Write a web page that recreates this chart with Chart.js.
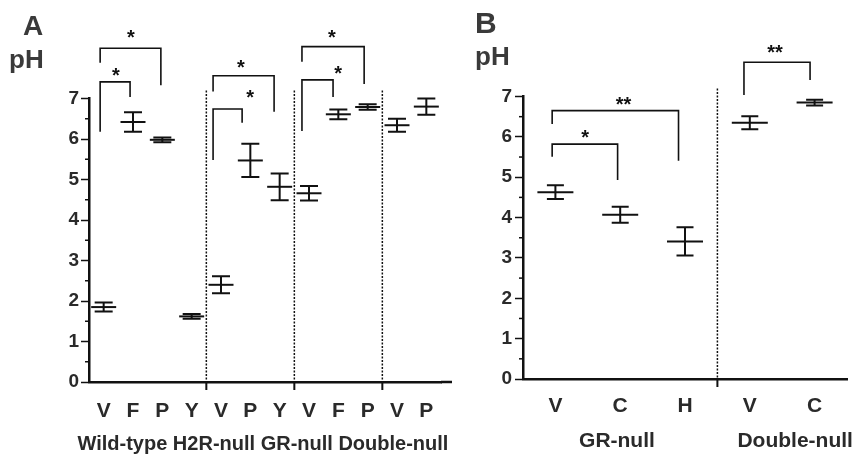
<!DOCTYPE html>
<html>
<head>
<meta charset="utf-8">
<script src="https://cdn.jsdelivr.net/npm/chart.js@4.4.0/dist/chart.umd.min.js"></script>
<style>
    body { margin: 0; background: #fff; width: 867px; height: 458px; position: relative; overflow: hidden; font-family: "Liberation Sans", Arial, sans-serif; }
    .box { position: absolute; top: 0; height: 458px; }
    .lbl { position: absolute; font-weight: bold; line-height: 1; color: #3a3a3a; white-space: nowrap; }
</style>
</head>
<body>
<div class="box" style="left:0;width:460px"><canvas id="chart-a"></canvas></div>
<div class="box" style="left:440px;width:427px"><canvas id="chart-b"></canvas></div>
<span class="lbl" style="left:23px;top:12px;font-size:28px">A</span>
<span class="lbl" style="left:9px;top:46px;font-size:26px">pH</span>
<span class="lbl" style="left:475px;top:8px;font-size:30px">B</span>
<span class="lbl" style="left:475px;top:43px;font-size:26px">pH</span>
<script>
    // panel A data (pH, mean and sem)
    const catsA = ['V', 'F', 'P', 'Y', 'V', 'P', 'Y', 'V', 'F', 'P', 'V', 'P'];
    const meanA = [1.85, 6.42, 5.98, 1.62, 2.40, 5.47, 4.82, 4.66, 6.61, 6.79, 6.34, 6.80];
    const semA = [0.11, 0.24, 0.06, 0.06, 0.21, 0.41, 0.33, 0.18, 0.12, 0.07, 0.16, 0.20];
    const groupA = 'Wild-type H2R-null GR-null Double-null';

    // panel B data
    const catsB = ['V', 'C', 'H', 'V', 'C'];
    const meanB = [4.63, 4.07, 3.41, 6.35, 6.85];
    const semB = [0.17, 0.20, 0.35, 0.16, 0.07];
    const groupsB = ['GR-null', 'Double-null'];

    const yTicks = [0, 1, 2, 3, 4, 5, 6, 7];

    // significance brackets: a/b = category positions, top/ya/yb = pH levels
    const bracketsA = [
        {a: -0.12, b: 0.90, top: 7.41, ya: 6.18, yb: 7.04, star: '*', sx: 0.42, sy: 7.70},
        {a: -0.12, b: 1.95, top: 8.24, ya: 7.88, yb: 7.33, star: '*', sx: 0.93, sy: 8.62},
        {a: 3.73, b: 4.72, top: 6.74, ya: 5.48, yb: 6.40, star: '*', sx: 4.99, sy: 7.14},
        {a: 3.73, b: 5.81, top: 7.56, ya: 7.17, yb: 6.67, star: '*', sx: 4.68, sy: 7.90},
        {a: 6.76, b: 7.82, top: 7.46, ya: 6.20, yb: 7.04, star: '*', sx: 7.99, sy: 7.75},
        {a: 6.76, b: 8.88, top: 8.28, ya: 7.91, yb: 7.36, star: '*', sx: 7.78, sy: 8.64}
    ];
    const bracketsB = [
        {a: -0.05, b: 0.96, top: 5.82, ya: 5.51, yb: 4.93, star: '*', sx: 0.46, sy: 6.10},
        {a: -0.05, b: 1.90, top: 6.65, ya: 6.32, yb: 5.41, star: '**', sx: 1.05, sy: 6.93},
        {a: 2.91, b: 3.93, top: 7.85, ya: 7.04, yb: 7.41, star: '**', sx: 3.39, sy: 8.21}
    ];

    const ink = '#111';
    const textInk = '#2a2a2a';
    const starSize = 20;

    // error bars, brackets, separators, minor ticks, group names
    const extras = {
        id: 'extras',
        afterDatasetsDraw(chart, args, opts) {
            const ctx = chart.ctx;
            const area = chart.chartArea;
            const x = chart.scales.x;
            const y = chart.scales.y;
            const means = chart.data.datasets[0].data;
            ctx.save();
            ctx.strokeStyle = ink;
            ctx.fillStyle = ink;

            // error bars
            ctx.lineWidth = 2;
            opts.sem.forEach((s, i) => {
                const px = x.getPixelForValue(i);
                const t = y.getPixelForValue(means[i] + s);
                const b = y.getPixelForValue(means[i] - s);
                ctx.beginPath();
                ctx.moveTo(px, t); ctx.lineTo(px, b);
                ctx.moveTo(px - opts.cap, t); ctx.lineTo(px + opts.cap, t);
                ctx.moveTo(px - opts.cap, b); ctx.lineTo(px + opts.cap, b);
                ctx.stroke();
            });

            // minor ticks on y
            ctx.lineWidth = 1.5;
            for (let v = 0.5; v < 7; v += 1) {
                const py = y.getPixelForValue(v);
                ctx.beginPath();
                ctx.moveTo(area.left - 4, py);
                ctx.lineTo(area.left, py);
                ctx.stroke();
            }

            // dotted separators with a tick under the axis
            opts.seps.forEach(p => {
                const px = x.getPixelForValue(p);
                ctx.setLineDash([2, 1.5]);
                ctx.lineWidth = 1.5;
                ctx.beginPath();
                ctx.moveTo(px, y.getPixelForValue(7.2));
                ctx.lineTo(px, area.bottom);
                ctx.stroke();
                ctx.setLineDash([]);
                ctx.lineWidth = 2;
                ctx.beginPath();
                ctx.moveTo(px, area.bottom);
                ctx.lineTo(px, area.bottom + 8);
                ctx.stroke();
            });

            // axis line runs a little past the last group
            if (opts.extend) {
                ctx.lineWidth = 2.5;
                ctx.beginPath();
                ctx.moveTo(area.right, area.bottom);
                ctx.lineTo(area.right + opts.extend, area.bottom);
                ctx.stroke();
            }

            // brackets
            ctx.lineWidth = 1.6;
            ctx.textAlign = 'center';
            ctx.textBaseline = 'alphabetic';
            ctx.font = 'bold ' + starSize + 'px "Liberation Sans", Arial, sans-serif';
            opts.brackets.forEach(br => {
                const xa = x.getPixelForValue(br.a);
                const xb = x.getPixelForValue(br.b);
                ctx.beginPath();
                ctx.moveTo(xa, y.getPixelForValue(br.ya));
                ctx.lineTo(xa, y.getPixelForValue(br.top));
                ctx.lineTo(xb, y.getPixelForValue(br.top));
                ctx.lineTo(xb, y.getPixelForValue(br.yb));
                ctx.stroke();
                ctx.fillText(br.star, x.getPixelForValue(br.sx), y.getPixelForValue(br.sy) + starSize * 0.58);
            });

            // group names under the axis
            ctx.fillStyle = textInk;
            ctx.font = 'bold ' + opts.groupSize + 'px "Liberation Sans", Arial, sans-serif';
            ctx.textBaseline = 'middle';
            opts.groups.forEach(g => {
                ctx.fillText(g.text, x.getPixelForValue(g.at), area.bottom + 62);
            });
            ctx.restore();
        }
    };

    function makeConfig(cats, means, sem, o) {
        return {
            type: 'line',
            data: {
                labels: cats,
                datasets: [{
                    data: means,
                    showLine: false,
                    pointStyle: 'line',
                    pointRadius: o.meanHalf,
                    pointHoverRadius: o.meanHalf,
                    borderColor: ink,
                    borderWidth: 2,
                    clip: false
                }]
            },
            options: {
                responsive: true,
                maintainAspectRatio: false,
                animation: false,
                events: [],
                layout: {padding: {top: o.top, right: o.right, bottom: 0, left: 0}},
                plugins: {
                    legend: {display: false},
                    tooltip: {enabled: false},
                    extras: {
                        sem: sem,
                        cap: o.cap,
                        seps: o.seps,
                        brackets: o.brackets,
                        extend: o.extend,
                        groups: o.groups,
                        groupSize: o.groupSize
                    }
                },
                scales: {
                    x: {
                        type: 'category',
                        offset: true,
                        afterFit: s => { s.height = o.xHeight; },
                        grid: {display: false, drawTicks: false},
                        border: {display: true, color: ink, width: 2.5},
                        ticks: {
                            color: textInk,
                            padding: o.xPad,
                            autoSkip: false,
                            maxRotation: 0,
                            font: {family: '"Liberation Sans", Arial, sans-serif', size: 21, weight: 'bold'}
                        }
                    },
                    y: {
                        min: 0,
                        max: 7,
                        afterFit: s => { s.width = o.yWidth; },
                        afterBuildTicks: s => { s.ticks = yTicks.map(v => ({value: v})); },
                        grid: {display: true, drawOnChartArea: false, drawTicks: true, tickLength: 8, tickWidth: 1.5, tickColor: ink},
                        border: {display: true, color: ink, width: 2.5},
                        ticks: {
                            color: textInk,
                            padding: o.yPad,
                            font: {family: '"Liberation Sans", Arial, sans-serif', size: 19, weight: 'bold'}
                        }
                    }
                }
            },
            plugins: [extras]
        };
    }

    new Chart(document.getElementById('chart-a').getContext('2d'), makeConfig(catsA, meanA, semA, {
        top: 98.5, right: 19, yWidth: 89, xHeight: 76, xPad: 17, yPad: 2,
        meanHalf: 12.5, cap: 9, seps: [3.5, 6.5, 9.5], brackets: bracketsA,
        extend: 11, groups: [{text: groupA, at: 5.43}], groupSize: 20
    }));

    new Chart(document.getElementById('chart-b').getContext('2d'), makeConfig(catsB, meanB, semB, {
        top: 96.5, right: 1, yWidth: 83, xHeight: 79, xPad: 15, yPad: 3,
        meanHalf: 18, cap: 8.5, seps: [2.5], brackets: bracketsB,
        groups: [{text: groupsB[0], at: 0.95}, {text: groupsB[1], at: 3.7}], groupSize: 21
    }));
</script>
</body>
</html>
